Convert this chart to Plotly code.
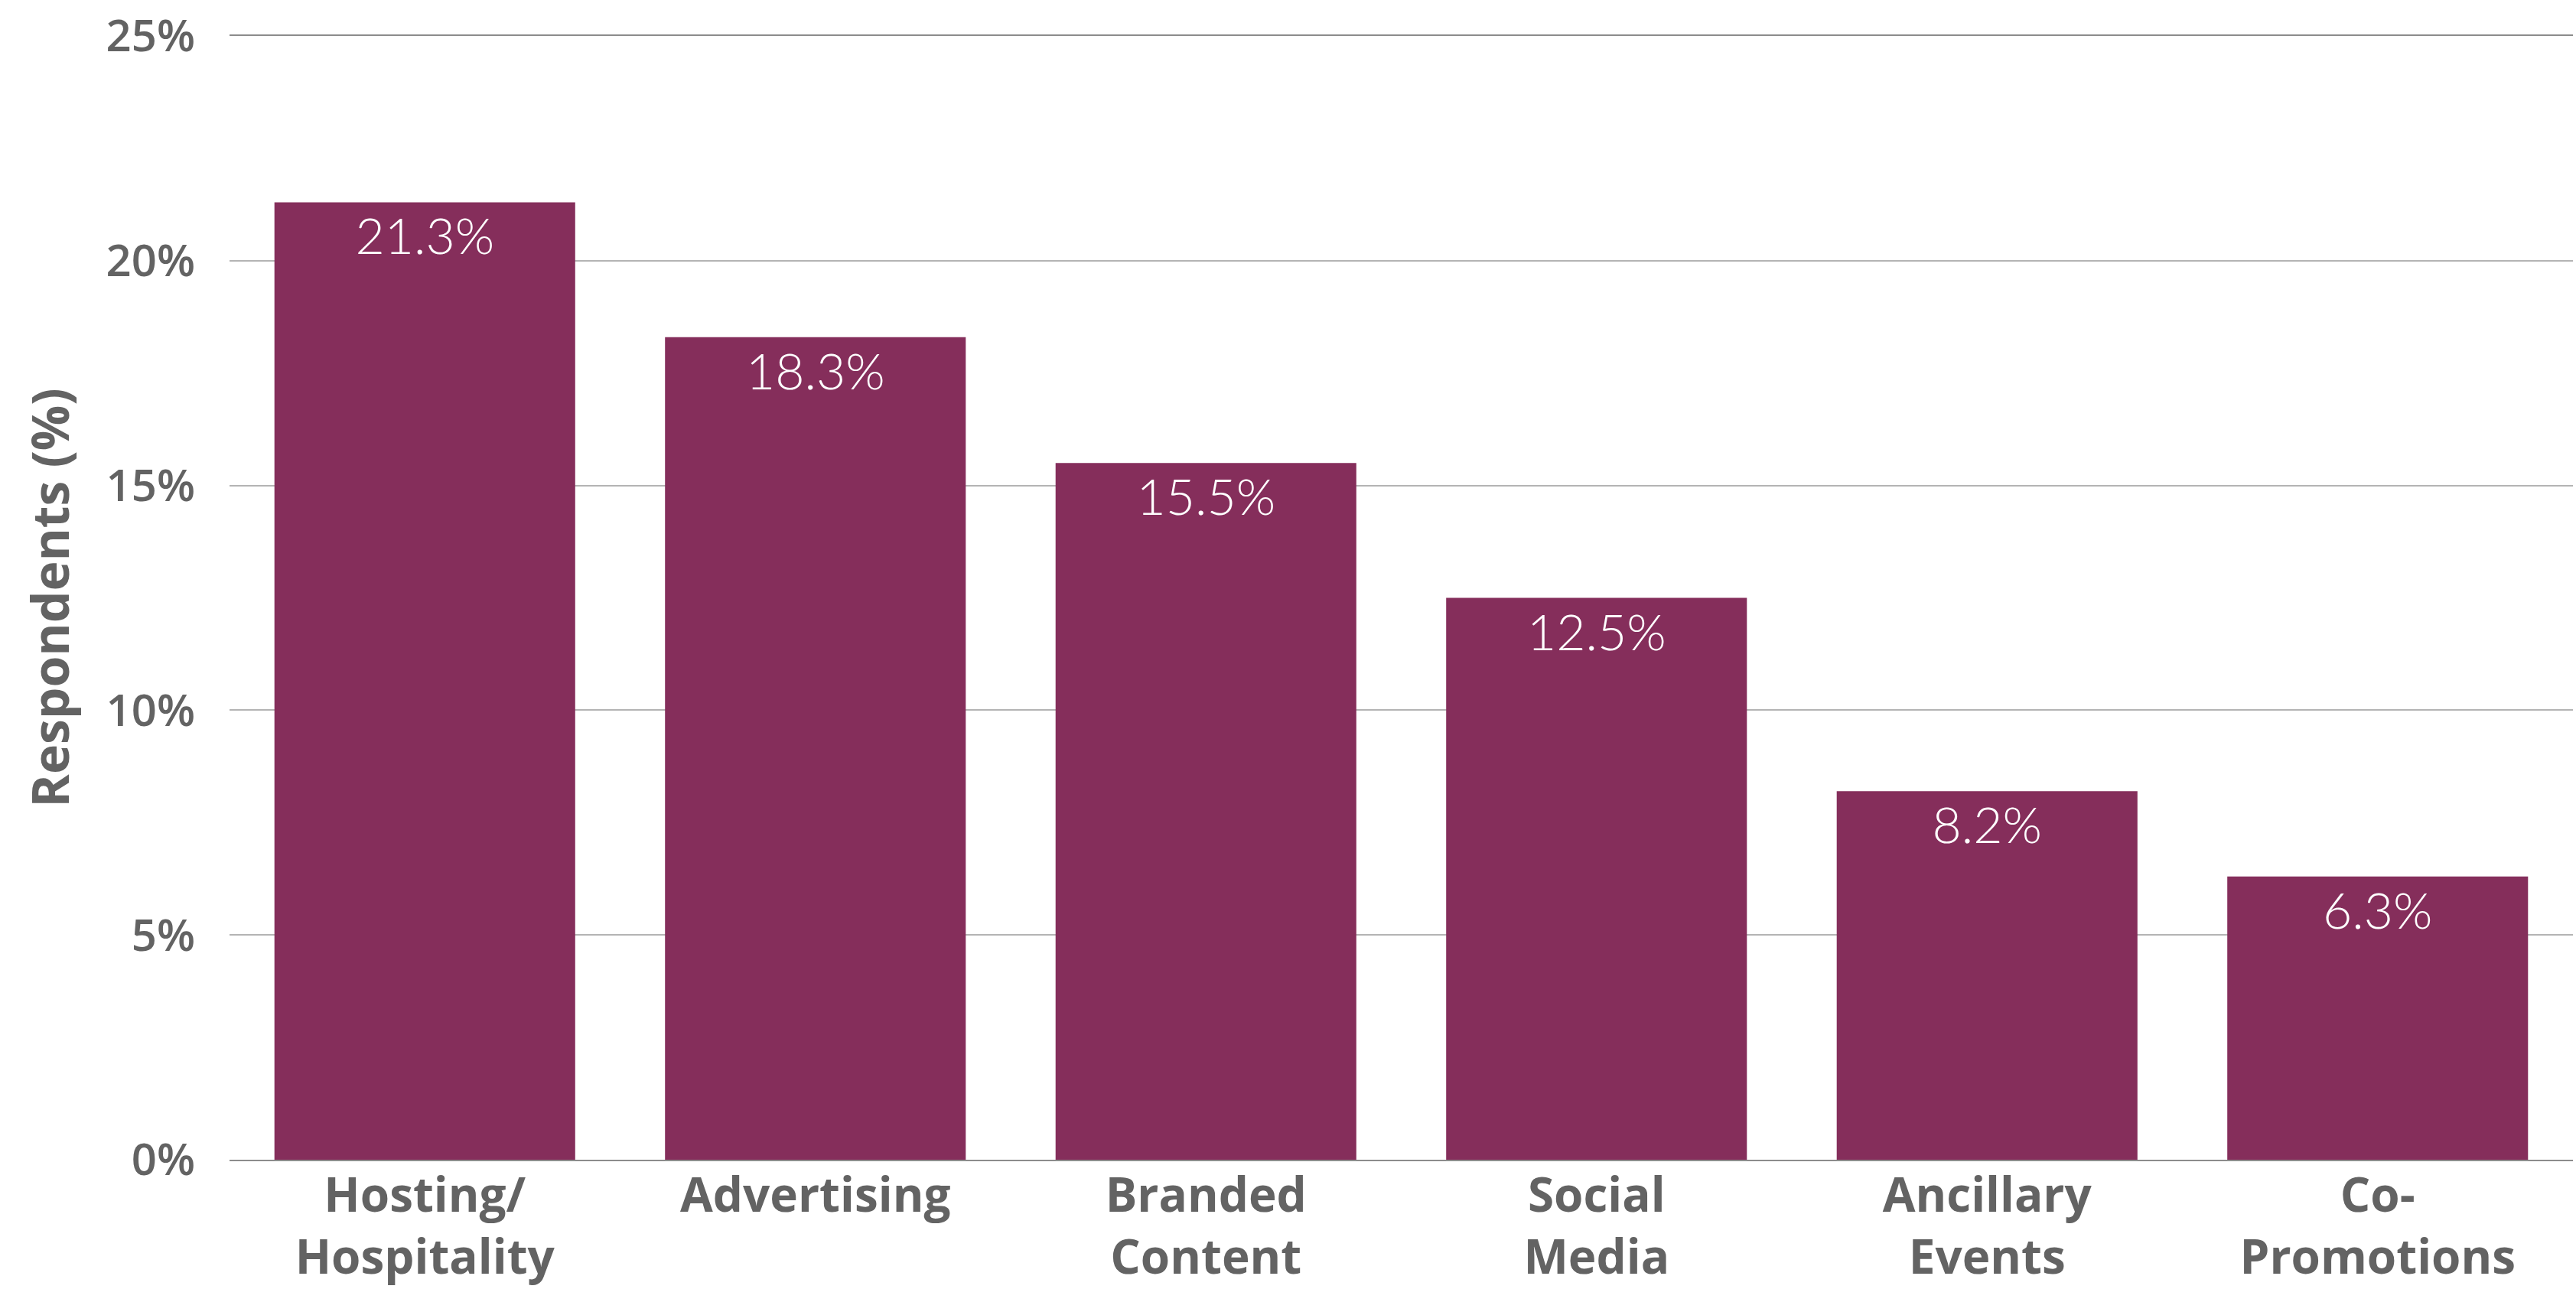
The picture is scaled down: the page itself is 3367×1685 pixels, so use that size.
import plotly.graph_objects as go

# Survey results: share of respondents per activation type
categories = [
    "Hosting/<br>Hospitality",
    "Advertising",
    "Branded<br>Content",
    "Social<br>Media",
    "Ancillary<br>Events",
    "Co-<br>Promotions",
]
respondents_pct = [21.3, 18.3, 15.5, 12.5, 8.2, 6.3]

y_ticks = [0, 5, 10, 15, 20, 25]
y_tick_labels = ["0%", "5%", "10%", "15%", "20%", "25%"]

BAR_COLOR = "#852E5B"
TEXT_GREY = "#636363"
FONT = "Open Sans"

fig = go.Figure(
    go.Bar(
        x=categories,
        y=respondents_pct,
        marker=dict(color=BAR_COLOR, line=dict(width=0)),
        texttemplate="%{y:.1f}%",
        textposition="inside",
        insidetextanchor="end",
        textangle=0,
        insidetextfont=dict(family="Lato", size=66, color="white", weight=300),
        cliponaxis=False,
    )
)

fig.update_layout(
    width=3367,
    height=1685,
    margin=dict(l=300, r=4, t=47, b=169),
    paper_bgcolor="white",
    plot_bgcolor="white",
    bargap=0.23,
    showlegend=False,
    uniformtext=dict(mode=False),
)

fig.update_xaxes(
    showgrid=False,
    showline=True,
    mirror=True,
    linecolor="#8c8c8c",
    linewidth=2,
    ticks="",
    automargin=False,
    tickfont=dict(family=FONT, size=62, color=TEXT_GREY, weight=700),
    ticklabelstandoff=-8,
)

fig.update_yaxes(
    range=[0, 25],
    tickvals=y_ticks,
    ticktext=y_tick_labels,
    showgrid=True,
    gridcolor="#b4b4b4",
    gridwidth=2,
    zeroline=False,
    showline=False,
    ticks="",
    tickfont=dict(family=FONT, size=58, color=TEXT_GREY, weight=600),
    ticklabelstandoff=44,
    automargin=False,
    title=dict(
        text="Respondents (%)",
        font=dict(family=FONT, size=66, color=TEXT_GREY, weight=700),
        standoff=26,
    ),
)

fig.write_html("out.html")
